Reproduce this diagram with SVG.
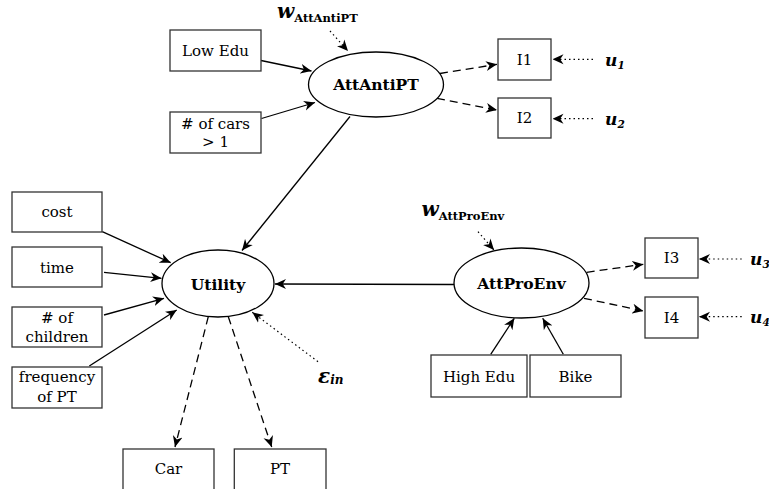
<svg xmlns="http://www.w3.org/2000/svg" width="769" height="489" viewBox="0 0 769 489">
<defs>
<marker id="ah" viewBox="0 -5 10 10" refX="10" refY="0" markerWidth="11" markerHeight="11" markerUnits="userSpaceOnUse" orient="auto">
<path d="M0,-4.5 L10,0 L0,4.5 L3,0 z" fill="#000"/>
</marker>
</defs>
<style>
.box{fill:#fff;stroke:#333;stroke-width:1.3}
.ell{fill:#fff;stroke:#000;stroke-width:1.3}
text{font-family:'DejaVu Serif','Liberation Serif',serif;fill:#000}
.t{font-size:15px;text-anchor:middle}
.b{font-size:15.5px;font-weight:bold;text-anchor:middle}
.m{font-weight:bold;font-style:italic}
.sub{font-weight:bold}
.s{fill:none;stroke:#000;stroke-width:1.3;marker-end:url(#ah)}
.d{fill:none;stroke:#000;stroke-width:1.3;stroke-dasharray:8 5;marker-end:url(#ah)}
.o{fill:none;stroke:#000;stroke-width:1.2;stroke-dasharray:1.5 3;marker-end:url(#ah)}
</style>
<rect width="769" height="489" fill="#fff"/>
<g id="connectors">
<line class="s" x1="261" y1="60.5" x2="311.5" y2="71"/>
<line class="s" x1="261.5" y1="118.5" x2="315" y2="102.5"/>
<line class="o" x1="330" y1="31" x2="348" y2="51"/>
<line class="s" x1="350" y1="116.5" x2="242" y2="250.5"/>
<line class="d" x1="440" y1="73.5" x2="497" y2="64.3"/>
<line class="d" x1="437" y1="98.3" x2="497" y2="110"/>
<line class="o" x1="593" y1="59.3" x2="552.5" y2="59.3"/>
<line class="o" x1="593" y1="118.7" x2="552.5" y2="118.7"/>
<line class="s" x1="102.3" y1="231.7" x2="170.7" y2="262.7"/>
<line class="s" x1="104" y1="272.3" x2="161.5" y2="278.3"/>
<line class="s" x1="104" y1="315" x2="164" y2="298.3"/>
<line class="s" x1="89.3" y1="366" x2="176.7" y2="310"/>
<line class="s" x1="454" y1="284.5" x2="275" y2="284"/>
<line class="o" x1="318" y1="361.7" x2="252.3" y2="312.3"/>
<line class="d" x1="208.3" y1="316.7" x2="175" y2="447"/>
<line class="d" x1="228.3" y1="316.7" x2="271.7" y2="447"/>
<line class="o" x1="478" y1="231.7" x2="494" y2="250"/>
<line class="d" x1="586.7" y1="272.3" x2="643.3" y2="264.3"/>
<line class="d" x1="584" y1="298.3" x2="643.3" y2="311"/>
<line class="s" x1="490.7" y1="354.3" x2="514.3" y2="318.3"/>
<line class="s" x1="563.3" y1="354.3" x2="542.7" y2="318.3"/>
<line class="o" x1="741.7" y1="259" x2="699" y2="259"/>
<line class="o" x1="741.7" y1="316.7" x2="699" y2="316.7"/>
</g>
<g id="lowedu"><rect class="box" x="170" y="30" width="91" height="41"/><text class="t" x="215.5" y="56">Low Edu</text></g>
<g id="cars"><rect class="box" x="170" y="112" width="91" height="41"/><text class="t" x="215.5" y="129.3"># of cars</text><text class="t" x="215.5" y="146.7">&gt; 1</text></g>
<g id="attantipt"><ellipse class="ell" cx="376" cy="84.5" rx="67.5" ry="32.5"/><text class="b" x="376" y="90">AttAntiPT</text></g>
<g id="w1"><text x="277" y="18"><tspan class="m" font-size="20">w</tspan><tspan class="sub" font-size="11.5" dy="4">AttAntiPT</tspan></text></g>
<g id="i1"><rect class="box" x="498" y="39" width="53" height="41"/><text class="t" x="524.5" y="65">I1</text></g>
<g id="i2"><rect class="box" x="498" y="98" width="53" height="40"/><text class="t" x="524.5" y="123.3">I2</text></g>
<g id="u1"><text x="605" y="66"><tspan class="m" font-size="17">u</tspan><tspan class="m" font-size="10.5" dy="3">1</tspan></text></g>
<g id="u2"><text x="605" y="125"><tspan class="m" font-size="17">u</tspan><tspan class="m" font-size="10.5" dy="3">2</tspan></text></g>
<g id="cost"><rect class="box" x="12" y="192" width="90" height="40"/><text class="t" x="57" y="217.3">cost</text></g>
<g id="time"><rect class="box" x="12" y="247" width="90" height="40"/><text class="t" x="57" y="272.7">time</text></g>
<g id="children"><rect class="box" x="12" y="307" width="90" height="40"/><text class="t" x="57" y="322.7"># of</text><text class="t" x="57" y="342.3">children</text></g>
<g id="freq"><rect class="box" x="12" y="367" width="90" height="41"/><text class="t" x="57" y="382.3">frequency</text><text class="t" x="57" y="401.7">of PT</text></g>
<g id="utility"><ellipse class="ell" cx="218" cy="283.5" rx="56" ry="33.5"/><text class="b" x="218" y="289.5">Utility</text></g>
<g id="eps"><text x="318" y="383"><tspan class="m" font-size="20">ε</tspan><tspan class="m" font-size="12" dy="1">in</tspan></text></g>
<g id="attproenv"><ellipse class="ell" cx="521.5" cy="283" rx="67.5" ry="35"/><text class="b" x="521.5" y="288.5">AttProEnv</text></g>
<g id="w2"><text x="421.5" y="216"><tspan class="m" font-size="20">w</tspan><tspan class="sub" font-size="11.5" dy="4">AttProEnv</tspan></text></g>
<g id="i3"><rect class="box" x="645" y="238" width="53" height="40"/><text class="t" x="671.5" y="263.3">I3</text></g>
<g id="i4"><rect class="box" x="645" y="297" width="53" height="41"/><text class="t" x="671.5" y="323.3">I4</text></g>
<g id="u3"><text x="750" y="265"><tspan class="m" font-size="17">u</tspan><tspan class="m" font-size="10.5" dy="3">3</tspan></text></g>
<g id="u4"><text x="750" y="323"><tspan class="m" font-size="17">u</tspan><tspan class="m" font-size="10.5" dy="3">4</tspan></text></g>
<g id="highedu"><rect class="box" x="431" y="355" width="96" height="42"/><text class="t" x="479" y="381.7">High Edu</text></g>
<g id="bike"><rect class="box" x="530" y="355" width="91" height="42"/><text class="t" x="575.5" y="381.7">Bike</text></g>
<g id="car"><rect class="box" x="123" y="449" width="91" height="50"/><text class="t" x="168.5" y="474.3">Car</text></g>
<g id="pt"><rect class="box" x="234.3" y="449" width="91.7" height="50"/><text class="t" x="280" y="474.3">PT</text></g>
</svg>
